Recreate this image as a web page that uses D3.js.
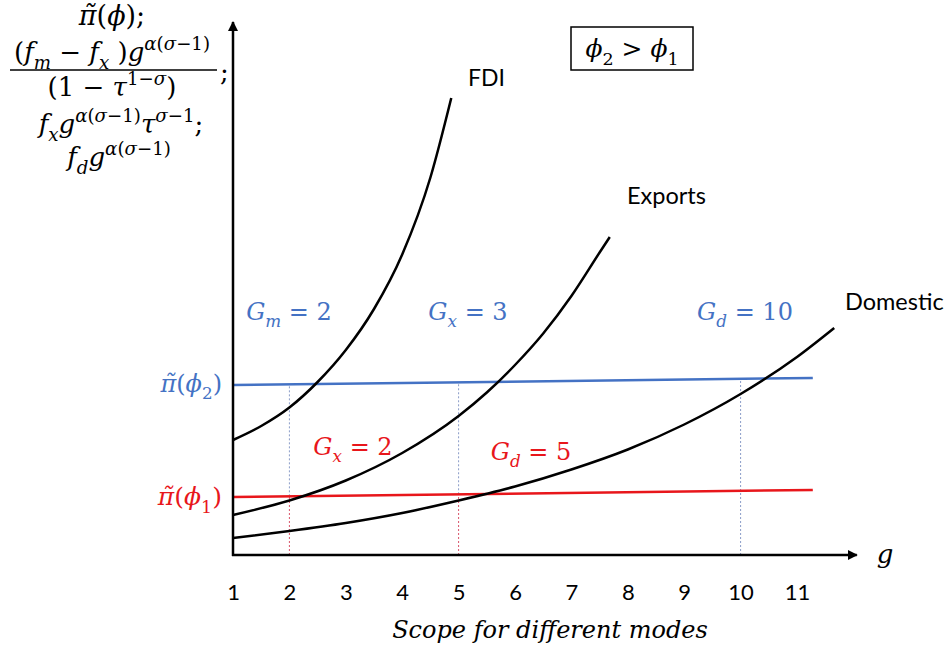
<!DOCTYPE html>
<html><head><meta charset="utf-8">
<script src="https://cdn.jsdelivr.net/npm/d3@7"></script>
<style>body{margin:0;background:#fff}</style>
</head><body><svg id="c" width="949" height="651"></svg>
<script>
// ---- data ----
const xTicks = [1,2,3,4,5,6,7,8,9,10,11];
const fdiG = [1, 1.5, 2, 2.5, 3, 3.5, 4, 4.5, 4.87];
const fdiV = [23, 25.8, 29.5, 34.6, 41, 49.2, 60.1, 75.5, 91.4];
const expG = [1, 2, 3, 4, 5, 5.5, 6, 6.5, 7, 7.5, 7.68];
const expV = [8, 10.9, 14.9, 20.4, 27.8, 32.5, 38, 44.3, 51.8, 60.5, 63.6];
const domG = [1, 2, 3, 4, 5, 6, 7, 8, 9, 10, 11, 11.66];
const domV = [3.4, 4.8, 6.4, 8.4, 10.9, 13.7, 17.1, 21.1, 26.1, 32.2, 39.6, 45.4];
const blueG = [1, 11.28], blueV = [34, 35.4];
const redG = [1, 11.28], redV = [11.6, 13];
const redDashG = [2, 5];
const blueDashG = [2, 5, 10];

const svg = d3.select("#c");
const sx = d3.scaleLinear().domain([1, 11]).range([233, 797]);
const sy = d3.scaleLinear().domain([0, 100]).range([555, 55]);
const BLUE = "#4472c4", RED = "#e8161b";
const MATH = "'DejaVu Serif', serif", SANS = "Lato, 'Open Sans', sans-serif";

const defs = svg.append("defs");
defs.append("marker").attr("id","arr").attr("viewBox","0 0 10 10").attr("refX",9).attr("refY",5)
  .attr("markerWidth",4).attr("markerHeight",4).attr("orient","auto")
  .append("path").attr("d","M0,0 L10,5 L0,10 z").attr("fill","#000");

const interp = (G, V, g) => V[0] + (V[1]-V[0]) * (g - G[0]) / (G[1]-G[0]);

// dashed guides
redDashG.forEach(g => {
  svg.append("line").attr("x1", sx(g)).attr("x2", sx(g)).attr("y1", sy(0)).attr("y2", sy(interp(redG, redV, g)))
    .attr("stroke", "#d9536a").attr("stroke-width", 1).attr("stroke-dasharray", "2,2");
});
blueDashG.forEach(g => {
  const start = redDashG.includes(g) ? interp(redG, redV, g) : 0;
  svg.append("line").attr("x1", sx(g)).attr("x2", sx(g)).attr("y1", sy(start)).attr("y2", sy(interp(blueG, blueV, g)))
    .attr("stroke", "#8a9cc8").attr("stroke-width", 1).attr("stroke-dasharray", "2,2");
});

// threshold lines
const lin = d3.line().x(d => sx(d[0])).y(d => sy(d[1]));
svg.append("path").attr("d", lin(d3.zip(blueG, blueV))).attr("stroke", BLUE).attr("stroke-width", 2.5).attr("fill", "none");
svg.append("path").attr("d", lin(d3.zip(redG, redV))).attr("stroke", RED).attr("stroke-width", 2.5).attr("fill", "none");

// curves
const curve = d3.line().x(d => sx(d[0])).y(d => sy(d[1])).curve(d3.curveMonotoneX);
[[fdiG, fdiV], [expG, expV], [domG, domV]].forEach(([G, V]) => {
  svg.append("path").attr("d", curve(d3.zip(G, V))).attr("stroke", "#000").attr("stroke-width", 2.5).attr("fill", "none");
});

// axes
svg.append("line").attr("x1", sx(1)).attr("x2", sx(1)).attr("y1", sy(0)+1).attr("y2", sy(106.6))
  .attr("stroke", "#000").attr("stroke-width", 2.5).attr("marker-end", "url(#arr)");
svg.append("line").attr("x1", sx(1)-1).attr("x2", sx(12.06)).attr("y1", sy(0)).attr("y2", sy(0))
  .attr("stroke", "#000").attr("stroke-width", 2.5).attr("marker-end", "url(#arr)");

const ax = svg.append("g").attr("transform", `translate(0,${sy(0)})`)
  .call(d3.axisBottom(sx).tickValues(xTicks).tickSize(0).tickPadding(29).tickFormat(d3.format("d")));
ax.select(".domain").remove();
ax.selectAll("text").attr("font-family", SANS).attr("font-size", 22).attr("fill", "#000");

// math text helper: segs = [text, style] where style in r,i,sub,sup,isub,isup
function math(x, y, segs, size, color, anchor) {
  const t = svg.append("text").attr("x", x).attr("y", y).attr("font-family", MATH)
    .attr("font-size", size).attr("fill", color || "#000").attr("text-anchor", anchor || "middle");
  let shift = 0;
  segs.forEach(([s, st]) => {
    let target = 0, fs = size, italic = false;
    if (st.includes("sub")) { target = size * 0.3; fs = size * 0.7; }
    if (st.includes("sup")) { target = -size * 0.42; fs = size * 0.7; }
    if (st.startsWith("i")) italic = true;
    t.append("tspan").attr("dy", target - shift).attr("font-size", fs)
      .attr("font-style", italic ? "italic" : "normal").text(s);
    shift = target;
  });
  return t;
}
const PT = "\u03C0\u0303", PHI = "\u03D5";

// left formula block
math(112, 25, [[PT, "i"], ["(", "r"], [PHI, "i"], [");", "r"]], 27);
math(112, 61, [["(", "r"], ["f", "i"], ["m", "isub"], [" \u2212 ", "r"], ["f", "i"], ["x", "isub"], [" )", "r"], ["g", "i"], ["\u03B1", "isup"], ["(", "sup"], ["\u03C3", "isup"], ["\u22121)", "sup"]], 26);
svg.append("line").attr("x1", 10).attr("x2", 217).attr("y1", 70).attr("y2", 70).attr("stroke", "#000").attr("stroke-width", 1.5);
math(220, 81, [[";", "r"]], 26, "#000", "start");
math(112, 96, [["(1 \u2212 ", "r"], ["\u03C4", "i"], ["1\u2212", "sup"], ["\u03C3", "isup"], [")", "r"]], 26);
math(121, 133, [["f", "i"], ["x", "isub"], ["g", "i"], ["\u03B1", "isup"], ["(", "sup"], ["\u03C3", "isup"], ["\u22121)", "sup"], ["\u03C4", "i"], ["\u03C3", "isup"], ["\u22121", "sup"], [";", "r"]], 26);
math(119, 166, [["f", "i"], ["d", "isub"], ["g", "i"], ["\u03B1", "isup"], ["(", "sup"], ["\u03C3", "isup"], ["\u22121)", "sup"]], 26);

// box
svg.append("rect").attr("x", 571).attr("y", 27).attr("width", 122).attr("height", 43)
  .attr("fill", "none").attr("stroke", "#000").attr("stroke-width", 1.5);
math(632, 57, [[PHI, "i"], ["2", "sub"], [" > ", "r"], [PHI, "i"], ["1", "sub"]], 25);

// curve names
svg.append("text").attr("x", 468).attr("y", 86).attr("font-family", SANS).attr("font-size", 23).text("FDI");
svg.append("text").attr("x", 627).attr("y", 204).attr("font-family", SANS).attr("font-size", 23.5).text("Exports");
svg.append("text").attr("x", 845).attr("y", 310).attr("font-family", SANS).attr("font-size", 23.5).text("Domestic");

// G labels
math(289, 320, [["G", "i"], ["m", "isub"], [" = 2", "r"]], 24, BLUE);
math(468, 320, [["G", "i"], ["x", "isub"], [" = 3", "r"]], 24, BLUE);
math(745, 320, [["G", "i"], ["d", "isub"], [" = 10", "r"]], 24, BLUE);
math(353, 455, [["G", "i"], ["x", "isub"], [" = 2", "r"]], 24, RED);
math(531, 460, [["G", "i"], ["d", "isub"], [" = 5", "r"]], 24, RED);

// y labels
math(222, 392, [[PT, "i"], ["(", "r"], [PHI, "i"], ["2", "sub"], [")", "r"]], 24, BLUE, "end");
math(222, 505, [[PT, "i"], ["(", "r"], [PHI, "i"], ["1", "sub"], [")", "r"]], 25, RED, "end");

// axis labels
math(885, 563, [["g", "i"]], 26);
math(550, 638, [["Scope for different modes", "i"]], 24);
</script></body></html>
